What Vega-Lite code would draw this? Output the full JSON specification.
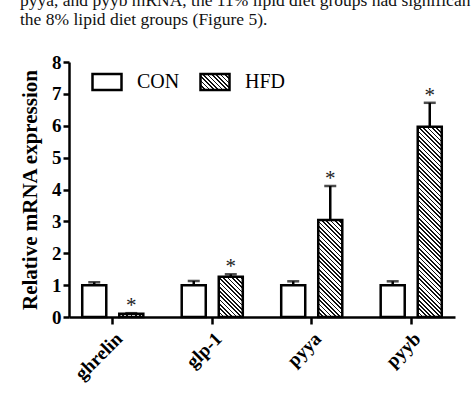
{
  "$schema": "https://vega.github.io/schema/vega-lite/v6.json",
  "width": 386,
  "height": 255,
  "autosize": {"type": "none"},
  "padding": {"left": 69, "top": 62, "right": 19, "bottom": 82},
  "background": "white",
  "config": {
    "view": {"stroke": null},
    "axisY": {
      "titleFont": "Liberation Serif",
      "titleFontSize": 21,
      "titleFontWeight": "bold",
      "titleColor": "black",
      "titlePadding": 11,
      "labelOverlap": false,
      "labelFlush": false,
      "labelFont": "Liberation Serif",
      "labelFontSize": 19,
      "labelFontWeight": "bold",
      "labelColor": "black",
      "labelPadding": 2,
      "domainColor": "black",
      "domainWidth": 2.5,
      "tickColor": "black",
      "tickWidth": 2.5,
      "tickSize": 6,
      "grid": false
    }
  },
  "params": [
    {"name": "hs", "expr": "[{offset:0,color:'#111'},{offset:0.008,color:'#111'},{offset:0.008,color:'#fff'},{offset:0.02,color:'#fff'},{offset:0.02,color:'#111'},{offset:0.028,color:'#111'},{offset:0.028,color:'#fff'},{offset:0.04,color:'#fff'},{offset:0.04,color:'#111'},{offset:0.048,color:'#111'},{offset:0.048,color:'#fff'},{offset:0.06,color:'#fff'},{offset:0.06,color:'#111'},{offset:0.068,color:'#111'},{offset:0.068,color:'#fff'},{offset:0.08,color:'#fff'},{offset:0.08,color:'#111'},{offset:0.088,color:'#111'},{offset:0.088,color:'#fff'},{offset:0.1,color:'#fff'},{offset:0.1,color:'#111'},{offset:0.108,color:'#111'},{offset:0.108,color:'#fff'},{offset:0.12,color:'#fff'},{offset:0.12,color:'#111'},{offset:0.128,color:'#111'},{offset:0.128,color:'#fff'},{offset:0.14,color:'#fff'},{offset:0.14,color:'#111'},{offset:0.148,color:'#111'},{offset:0.148,color:'#fff'},{offset:0.16,color:'#fff'},{offset:0.16,color:'#111'},{offset:0.168,color:'#111'},{offset:0.168,color:'#fff'},{offset:0.18,color:'#fff'},{offset:0.18,color:'#111'},{offset:0.188,color:'#111'},{offset:0.188,color:'#fff'},{offset:0.2,color:'#fff'},{offset:0.2,color:'#111'},{offset:0.208,color:'#111'},{offset:0.208,color:'#fff'},{offset:0.22,color:'#fff'},{offset:0.22,color:'#111'},{offset:0.228,color:'#111'},{offset:0.228,color:'#fff'},{offset:0.24,color:'#fff'},{offset:0.24,color:'#111'},{offset:0.248,color:'#111'},{offset:0.248,color:'#fff'},{offset:0.26,color:'#fff'},{offset:0.26,color:'#111'},{offset:0.268,color:'#111'},{offset:0.268,color:'#fff'},{offset:0.28,color:'#fff'},{offset:0.28,color:'#111'},{offset:0.288,color:'#111'},{offset:0.288,color:'#fff'},{offset:0.3,color:'#fff'},{offset:0.3,color:'#111'},{offset:0.308,color:'#111'},{offset:0.308,color:'#fff'},{offset:0.32,color:'#fff'},{offset:0.32,color:'#111'},{offset:0.328,color:'#111'},{offset:0.328,color:'#fff'},{offset:0.34,color:'#fff'},{offset:0.34,color:'#111'},{offset:0.348,color:'#111'},{offset:0.348,color:'#fff'},{offset:0.36,color:'#fff'},{offset:0.36,color:'#111'},{offset:0.368,color:'#111'},{offset:0.368,color:'#fff'},{offset:0.38,color:'#fff'},{offset:0.38,color:'#111'},{offset:0.388,color:'#111'},{offset:0.388,color:'#fff'},{offset:0.4,color:'#fff'},{offset:0.4,color:'#111'},{offset:0.408,color:'#111'},{offset:0.408,color:'#fff'},{offset:0.42,color:'#fff'},{offset:0.42,color:'#111'},{offset:0.428,color:'#111'},{offset:0.428,color:'#fff'},{offset:0.44,color:'#fff'},{offset:0.44,color:'#111'},{offset:0.448,color:'#111'},{offset:0.448,color:'#fff'},{offset:0.46,color:'#fff'},{offset:0.46,color:'#111'},{offset:0.468,color:'#111'},{offset:0.468,color:'#fff'},{offset:0.48,color:'#fff'},{offset:0.48,color:'#111'},{offset:0.488,color:'#111'},{offset:0.488,color:'#fff'},{offset:0.5,color:'#fff'},{offset:0.5,color:'#111'},{offset:0.508,color:'#111'},{offset:0.508,color:'#fff'},{offset:0.52,color:'#fff'},{offset:0.52,color:'#111'},{offset:0.528,color:'#111'},{offset:0.528,color:'#fff'},{offset:0.54,color:'#fff'},{offset:0.54,color:'#111'},{offset:0.548,color:'#111'},{offset:0.548,color:'#fff'},{offset:0.56,color:'#fff'},{offset:0.56,color:'#111'},{offset:0.568,color:'#111'},{offset:0.568,color:'#fff'},{offset:0.58,color:'#fff'},{offset:0.58,color:'#111'},{offset:0.588,color:'#111'},{offset:0.588,color:'#fff'},{offset:0.6,color:'#fff'},{offset:0.6,color:'#111'},{offset:0.608,color:'#111'},{offset:0.608,color:'#fff'},{offset:0.62,color:'#fff'},{offset:0.62,color:'#111'},{offset:0.628,color:'#111'},{offset:0.628,color:'#fff'},{offset:0.64,color:'#fff'},{offset:0.64,color:'#111'},{offset:0.648,color:'#111'},{offset:0.648,color:'#fff'},{offset:0.66,color:'#fff'},{offset:0.66,color:'#111'},{offset:0.668,color:'#111'},{offset:0.668,color:'#fff'},{offset:0.68,color:'#fff'},{offset:0.68,color:'#111'},{offset:0.688,color:'#111'},{offset:0.688,color:'#fff'},{offset:0.7,color:'#fff'},{offset:0.7,color:'#111'},{offset:0.708,color:'#111'},{offset:0.708,color:'#fff'},{offset:0.72,color:'#fff'},{offset:0.72,color:'#111'},{offset:0.728,color:'#111'},{offset:0.728,color:'#fff'},{offset:0.74,color:'#fff'},{offset:0.74,color:'#111'},{offset:0.748,color:'#111'},{offset:0.748,color:'#fff'},{offset:0.76,color:'#fff'},{offset:0.76,color:'#111'},{offset:0.768,color:'#111'},{offset:0.768,color:'#fff'},{offset:0.78,color:'#fff'},{offset:0.78,color:'#111'},{offset:0.788,color:'#111'},{offset:0.788,color:'#fff'},{offset:0.8,color:'#fff'},{offset:0.8,color:'#111'},{offset:0.808,color:'#111'},{offset:0.808,color:'#fff'},{offset:0.82,color:'#fff'},{offset:0.82,color:'#111'},{offset:0.828,color:'#111'},{offset:0.828,color:'#fff'},{offset:0.84,color:'#fff'},{offset:0.84,color:'#111'},{offset:0.848,color:'#111'},{offset:0.848,color:'#fff'},{offset:0.86,color:'#fff'},{offset:0.86,color:'#111'},{offset:0.868,color:'#111'},{offset:0.868,color:'#fff'},{offset:0.88,color:'#fff'},{offset:0.88,color:'#111'},{offset:0.888,color:'#111'},{offset:0.888,color:'#fff'},{offset:0.9,color:'#fff'},{offset:0.9,color:'#111'},{offset:0.908,color:'#111'},{offset:0.908,color:'#fff'},{offset:0.92,color:'#fff'},{offset:0.92,color:'#111'},{offset:0.928,color:'#111'},{offset:0.928,color:'#fff'},{offset:0.94,color:'#fff'},{offset:0.94,color:'#111'},{offset:0.948,color:'#111'},{offset:0.948,color:'#fff'},{offset:0.96,color:'#fff'},{offset:0.96,color:'#111'},{offset:0.968,color:'#111'},{offset:0.968,color:'#fff'},{offset:0.98,color:'#fff'},{offset:0.98,color:'#111'},{offset:0.988,color:'#111'},{offset:0.988,color:'#fff'},{offset:1,color:'#fff'}]"}
  ],
  "title": {
    "text": ["pyya, and pyyb mRNA, the 11% lipid diet groups had significan", "the 8% lipid diet groups (Figure 5)."],
    "anchor": "start",
    "frame": "group",
    "dx": -49,
    "dy": -11,
    "font": "Liberation Serif",
    "fontSize": 17.5,
    "fontWeight": "normal",
    "color": "#111",
    "lineHeight": 19,
    "offset": 14
  },
  "data": {
    "values": [
      {"gene": "ghrelin", "group": "CON", "value": 1.0, "upper": 1.09, "sig": false},
      {"gene": "ghrelin", "group": "HFD", "value": 0.10, "upper": 0.12, "sig": true},
      {"gene": "glp-1", "group": "CON", "value": 1.0, "upper": 1.13, "sig": false},
      {"gene": "glp-1", "group": "HFD", "value": 1.26, "upper": 1.34, "sig": true},
      {"gene": "pyya", "group": "CON", "value": 1.0, "upper": 1.12, "sig": false},
      {"gene": "pyya", "group": "HFD", "value": 3.04, "upper": 4.11, "sig": true},
      {"gene": "pyyb", "group": "CON", "value": 1.0, "upper": 1.12, "sig": false},
      {"gene": "pyyb", "group": "HFD", "value": 5.97, "upper": 6.72, "sig": true}
    ]
  },
  "encoding": {
    "x": {
      "field": "gene",
      "type": "nominal",
      "sort": ["ghrelin", "glp-1", "pyya", "pyyb"],
      "scale": {"paddingInner": 0.386, "paddingOuter": 0.133},
      "axis": {
        "title": null,
        "labelAngle": -45,
        "labelFont": "Liberation Serif",
        "labelFontSize": 19,
        "labelFontWeight": "bold",
        "labelColor": "black",
        "domainColor": "black",
        "domainWidth": 2.5,
        "tickColor": "black",
        "tickWidth": 2.5,
        "tickSize": 7,
        "labelPadding": 5
      }
    },
    "xOffset": {
      "field": "group",
      "type": "nominal",
      "scale": {"paddingInner": 0.351, "paddingOuter": 0}
    }
  },
  "layer": [
    {
      "mark": {"type": "bar", "stroke": "black", "strokeWidth": 2.5},
      "encoding": {
        "y": {
          "field": "value",
          "type": "quantitative",
          "scale": {"domain": [0, 8], "nice": false},
          "axis": {"title": "Relative mRNA expression", "values": [0, 1, 2, 3, 4, 5, 6, 7, 8], "tickCount": 9, "labelOverlap": false}
        },
        "fill": {
          "field": "group",
          "type": "nominal",
          "scale": {
            "domain": ["CON", "HFD"],
            "range": ["#ffffff", {"expr": "{gradient:'linear',x1:0,y1:1,x2:5.71,y2:-2.14,stops:hs}"}]
          },
          "legend": {
            "title": null,
            "orient": "none",
            "legendX": 22,
            "legendY": 4,
            "direction": "horizontal",
            "symbolType": "M-1,-0.55H1V0.55H-1Z",
            "symbolSize": 841,
            "symbolStrokeColor": "black",
            "symbolStrokeWidth": 2.5,
            "labelFont": "Liberation Serif",
            "labelFontSize": 20,
            "labelColor": "black",
            "labelOffset": 14,
            "columnPadding": 15,
            "padding": 0
          },
          "condition": [
            {"test": "datum.group==='HFD' && datum.gene==='pyyb'", "value": {"expr": "{gradient:'linear',x1:0,y1:1,x2:0.1409,y2:-0.1155,stops:hs}"}},
            {"test": "datum.group==='HFD' && datum.gene==='pyya'", "value": {"expr": "{gradient:'linear',x1:0,y1:1,x2:0.5202,y2:-1.0966,stops:hs}"}},
            {"test": "datum.group==='HFD' && datum.gene==='glp-1'", "value": {"expr": "{gradient:'linear',x1:0,y1:1,x2:2.3667,y2:-2.9537,stops:hs}"}},
            {"test": "datum.group==='HFD' && datum.gene==='ghrelin'", "value": {"expr": "{gradient:'linear',x1:0,y1:1,x2:8.816,y2:-0.1699,stops:hs}"}}
          ]
        }
      }
    },
    {
      "mark": {"type": "rule", "color": "black", "strokeWidth": 2.5},
      "encoding": {
        "y": {"field": "value", "type": "quantitative", "axis": {"title": "Relative mRNA expression", "values": [0, 1, 2, 3, 4, 5, 6, 7, 8], "tickCount": 9, "labelOverlap": false}},
        "y2": {"field": "upper"}
      }
    },
    {
      "mark": {"type": "tick", "color": "black", "thickness": 2.5, "size": 12},
      "encoding": {
        "y": {"field": "upper", "type": "quantitative", "axis": {"title": "Relative mRNA expression", "values": [0, 1, 2, 3, 4, 5, 6, 7, 8], "tickCount": 9, "labelOverlap": false}}
      }
    },
    {
      "transform": [{"filter": "datum.sig"}],
      "mark": {"type": "text", "text": "*", "font": "Liberation Serif", "fontSize": 21, "color": "#222", "baseline": "alphabetic", "dy": -1},
      "encoding": {
        "y": {"field": "upper", "type": "quantitative", "axis": {"title": "Relative mRNA expression", "values": [0, 1, 2, 3, 4, 5, 6, 7, 8], "tickCount": 9, "labelOverlap": false}}
      }
    }
  ]
}
